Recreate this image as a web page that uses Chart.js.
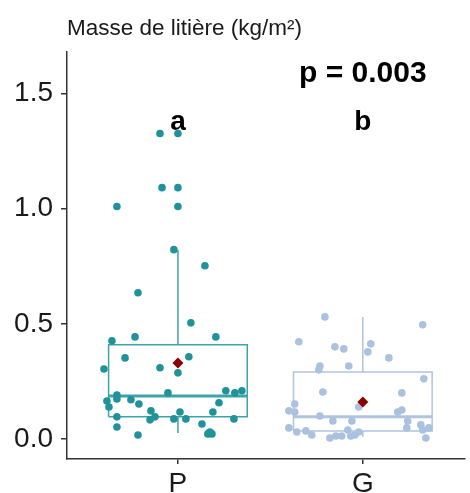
<!DOCTYPE html>
<html>
<head>
<meta charset="utf-8">
<script src="https://cdn.jsdelivr.net/npm/chart.js@4/dist/chart.umd.min.js"></script>
<style>
  html, body { margin: 0; padding: 0; background: #fff; }
  #wrap { width: 470px; height: 493px; position: relative; }
</style>
</head>
<body>
<div id="wrap"><canvas id="litterChart"></canvas></div>
<script>
// Categories and labels
const categories = ["P", "G"];
const letters = ["a", "b"];
const chartTitle = "Masse de litière (kg/m²)";
const pValueLabel = "p = 0.003";
const yTicks = [0, 0.5, 1.0, 1.5];

// Jittered observations, group P
const pX = [0.903, 1.0, 0.914, 1.0, 0.670, 1.0, 0.978, 1.146, 0.784, 1.070, 0.643, 0.768, 1.205, 0.714, 1.059,
  0.600, 0.903, 1.0, 0.946, 1.259, 1.308, 1.346, 0.670, 0.616, 0.670, 0.746, 0.627, 0.789, 1.222, 0.854,
  1.011, 1.189, 0.670, 0.876, 0.849, 0.978, 1.043, 1.303, 0.670, 1.130, 0.784, 1.162, 1.184, 1.173];
const pY = [1.326, 1.326, 1.091, 1.091, 1.009, 1.009, 0.822, 0.752, 0.635, 0.504, 0.426, 0.443, 0.443, 0.352, 0.357,
  0.304, 0.309, 0.287, 0.200, 0.209, 0.200, 0.209, 0.191, 0.165, 0.174, 0.170, 0.139, 0.152, 0.157, 0.122,
  0.117, 0.117, 0.096, 0.096, 0.083, 0.087, 0.087, 0.087, 0.052, 0.065, 0.017, 0.022, 0.022, 0.030];

// Jittered observations, group G
const gX = [1.795, 2.324, 1.654, 1.849, 1.897, 2.043, 2.027, 2.141, 1.768, 1.762, 1.924, 2.330, 1.784, 2.211,
  1.978, 1.632, 1.600, 1.632, 2.189, 2.211, 1.768, 1.838, 1.941, 2.243, 2.238, 1.600, 1.643, 1.692, 1.724,
  1.822, 1.854, 1.886, 1.919, 1.935, 1.978, 1.957, 2.314, 2.324, 2.357, 2.341];
const gY = [0.530, 0.496, 0.422, 0.400, 0.391, 0.413, 0.378, 0.352, 0.317, 0.300, 0.317, 0.261, 0.204, 0.200,
  0.139, 0.152, 0.122, 0.117, 0.117, 0.126, 0.100, 0.078, 0.078, 0.078, 0.048, 0.048, 0.030, 0.035, 0.017,
  0.004, 0.013, 0.013, 0.039, 0.013, 0.030, 0.017, 0.061, 0.039, 0.048, 0.004];

// Box statistics per group (P, G)
const whiskerLow = [0.026, 0.010];
const quartile1 = [0.096, 0.035];
const medians = [0.187, 0.096];
const quartile3 = [0.409, 0.291];
const whiskerHigh = [0.82, 0.53];
const means = [0.33, 0.16];

const pointColors = ["#1f9399", "#aac1e0"];
const boxColors = ["#3ea3a8", "#b0c4de"];
const meanColor = "#8b0000";
const axisColor = "#333333";
const textColor = "#1a1a1a";
const fontFamily = "'Liberation Sans', Arial, sans-serif";
const halfWidth = 0.375;

const datasets = [];

// mean diamonds on top
datasets.push({
  data: means.map((m, i) => ({ x: i + 1, y: m })),
  pointStyle: "rectRot",
  pointRadius: 5.5,
  backgroundColor: meanColor,
  borderColor: meanColor,
  borderWidth: 0,
  showLine: false
});

// jitter points
datasets.push({
  data: pX.map((x, i) => ({ x: x, y: pY[i] })),
  pointRadius: 3.8,
  backgroundColor: pointColors[0],
  borderWidth: 0,
  showLine: false
});
datasets.push({
  data: gX.map((x, i) => ({ x: x, y: gY[i] })),
  pointRadius: 3.8,
  backgroundColor: pointColors[1],
  borderWidth: 0,
  showLine: false
});

// boxes, medians and whiskers
categories.forEach((c, i) => {
  const cx = i + 1;
  const lineStyle = { showLine: true, pointRadius: 0, fill: false, borderColor: boxColors[i], tension: 0 };
  datasets.push(Object.assign({}, lineStyle, {
    borderWidth: 3,
    data: [{ x: cx - halfWidth, y: medians[i] }, { x: cx + halfWidth, y: medians[i] }]
  }));
  datasets.push(Object.assign({}, lineStyle, {
    borderWidth: 1.5,
    data: [
      { x: cx - halfWidth, y: quartile1[i] }, { x: cx + halfWidth, y: quartile1[i] },
      { x: cx + halfWidth, y: quartile3[i] }, { x: cx - halfWidth, y: quartile3[i] },
      { x: cx - halfWidth, y: quartile1[i] }
    ]
  }));
  datasets.push(Object.assign({}, lineStyle, {
    borderWidth: 1.5,
    data: [{ x: cx, y: quartile3[i] }, { x: cx, y: whiskerHigh[i] }]
  }));
  datasets.push(Object.assign({}, lineStyle, {
    borderWidth: 1.5,
    data: [{ x: cx, y: whiskerLow[i] }, { x: cx, y: quartile1[i] }]
  }));
});

const annotationPlugin = {
  id: "annotations",
  afterDatasetsDraw(chart) {
    const { ctx, scales: { x, y }, chartArea } = chart;
    ctx.save();
    ctx.fillStyle = "#000";
    ctx.textAlign = "center";
    ctx.textBaseline = "alphabetic";
    ctx.font = "bold 28px " + fontFamily;
    letters.forEach((l, i) => {
      ctx.fillText(l, x.getPixelForValue(i + 1), y.getPixelForValue(1.343));
    });
    ctx.font = "bold 30px " + fontFamily;
    ctx.fillText(pValueLabel, x.getPixelForValue(2), y.getPixelForValue(1.548));
    ctx.font = "22.5px " + fontFamily;
    ctx.fillStyle = textColor;
    ctx.textAlign = "left";
    ctx.fillText(chartTitle, chartArea.left, 35);
    ctx.restore();
  }
};

new Chart(document.getElementById("litterChart").getContext("2d"), {
  type: "scatter",
  data: { datasets: datasets },
  plugins: [annotationPlugin],
  options: {
    responsive: true,
    maintainAspectRatio: false,
    animation: false,
    layout: { padding: { top: 52, right: 0, left: 0, bottom: 0 } },
    plugins: { legend: { display: false }, tooltip: { enabled: false } },
    scales: {
      x: {
        type: "linear",
        min: 0.4,
        max: 2.55,
        afterBuildTicks: s => { s.ticks = categories.map((c, i) => ({ value: i + 1 })); },
        afterFit: s => { s.height = 34; },
        ticks: {
          callback: v => categories[Math.round(v) - 1],
          color: textColor,
          font: { family: fontFamily, size: 28 },
          padding: 3,
          maxRotation: 0
        },
        grid: { drawOnChartArea: false, drawTicks: true, tickLength: 5, color: axisColor, lineWidth: 1.5 },
        border: { display: true, color: axisColor, width: 1.5 }
      },
      y: {
        min: -0.087,
        max: 1.68,
        afterBuildTicks: s => { s.ticks = yTicks.map(v => ({ value: v })); },
        afterFit: s => { s.width = 67; },
        ticks: {
          callback: v => v.toFixed(1),
          color: textColor,
          font: { family: fontFamily, size: 28 },
          padding: 8
        },
        grid: { drawOnChartArea: false, drawTicks: true, tickLength: 6, color: axisColor, lineWidth: 1.5 },
        border: { display: true, color: axisColor, width: 1.5 }
      }
    }
  }
});
</script>
</body>
</html>
